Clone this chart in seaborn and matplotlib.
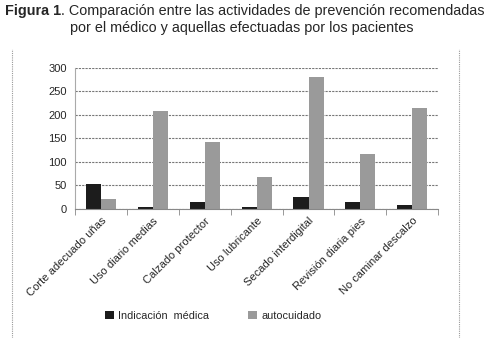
import matplotlib
matplotlib.use("Agg")
import matplotlib.pyplot as plt
from matplotlib.lines import Line2D
import numpy as np
import pandas as pd
import seaborn as sns

actividades = ["Corte adecuado uñas", "Uso diario medias", "Calzado protector",
               "Uso lubricante", "Secado interdigital", "Revisión diaria pies",
               "No caminar descalzo"]
indicacion_medica = [52, 5, 15, 5, 26, 15, 8]
autocuidado = [20, 208, 142, 67, 281, 116, 215]
series = ["Indicación  médica", "autocuidado"]
colores = ["#1c1c1c", "#9a9a9a"]

df = pd.DataFrame({
    "actividad": actividades * 2,
    "valor": indicacion_medica + autocuidado,
    "serie": [series[0]] * len(actividades) + [series[1]] * len(actividades),
})

sns.set_style("white")
plt.rcParams["font.family"] = ["Liberation Sans", "DejaVu Sans"]

fig = plt.figure(figsize=(4.94, 3.38), dpi=100)
ax = fig.add_axes([0.152, 0.382, 0.735, 0.417])

sns.barplot(data=df, x="actividad", y="valor", hue="serie", palette=colores,
            width=0.58, ax=ax, saturation=1, edgecolor="none")

ax.set_ylim(0, 300)
ax.set_xlim(-0.5, len(actividades) - 0.5)
ax.set_yticks(range(0, 301, 50))
ax.yaxis.grid(True, color="#777777", linestyle=(0, (2, 1)), linewidth=0.8)
ax.set_axisbelow(True)
ax.set_xlabel("")
ax.set_ylabel("")

for s in ["top", "right"]:
    ax.spines[s].set_visible(False)
ax.spines["left"].set_color("#aaaaaa")
ax.spines["bottom"].set_color("#888888")

# etiquetas centradas en cada categoría, marcas entre categorías
ax.set_xticks(np.arange(len(actividades)))
ax.set_xticklabels(actividades, rotation=45, ha="right", rotation_mode="anchor", fontsize=8)
ax.set_xticks(np.arange(-0.5, len(actividades)), minor=True)
ax.tick_params(axis="x", which="major", length=0, pad=5)
ax.tick_params(axis="x", which="minor", length=4, color="#888888", bottom=True)
ax.tick_params(axis="y", labelsize=8, length=0, pad=6)

ax.legend(loc="center", bbox_to_anchor=(0.381, -0.76), ncol=2, frameon=False,
          fontsize=7.8, handlelength=0.8, handleheight=0.8, columnspacing=3.6,
          handletextpad=0.4)

# título: "Figura 1" en negrita seguido del resto
t1 = fig.text(0.01, 0.955, "Figura 1", fontsize=10.4, fontweight="bold")
ax.annotate(". Comparación entre las actividades de prevención recomendadas",
            xy=(1, 0), xycoords=t1, fontsize=10.4, ha="left", va="bottom",
            annotation_clip=False)
fig.text(0.142, 0.905, "por el médico y aquellas efectuadas por los pacientes", fontsize=10.4)

# bordes punteados del recuadro
for x in [0.025, 0.929]:
    fig.add_artist(Line2D([x, x], [0, 0.855], color="#999999", linewidth=0.8,
                          linestyle=(0, (1, 1))))

fig.savefig("out.png", dpi=100)
